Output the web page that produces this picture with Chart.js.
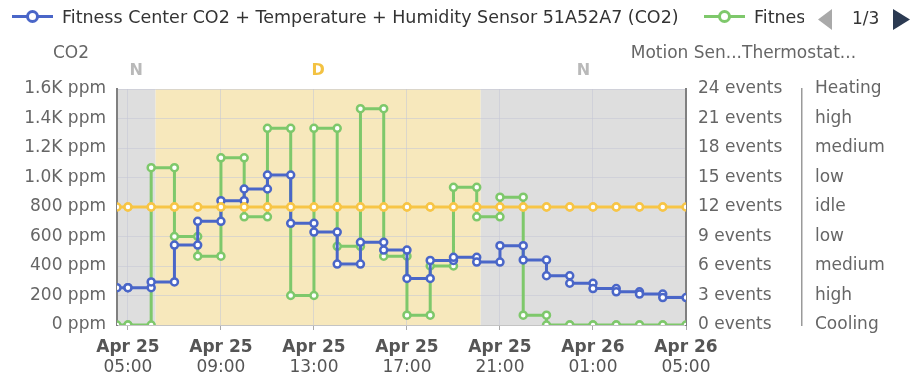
<!DOCTYPE html>
<html><head><meta charset="utf-8">
<script src="https://cdn.jsdelivr.net/npm/chart.js@4/dist/chart.umd.min.js"></script>
<style>
html,body{margin:0;padding:0;background:#fff;}
#wrap{position:relative;width:914px;height:379px;overflow:hidden;font-family:"DejaVu Sans",sans-serif;}
#c{position:absolute;left:0;top:0;}
.item{position:absolute;top:0;height:34px;display:flex;align-items:center;}
.mk{position:relative;width:41px;height:34px;flex:none;}
.mk .ln{position:absolute;left:0;right:0;top:15px;height:3px;}
.mk .ci{position:absolute;left:14px;top:10px;width:7px;height:7px;border:3px solid;border-radius:50%;background:#fff;}
.txt{font-size:17.5px;color:#333;white-space:nowrap;margin-left:9px;overflow:hidden;}
#pg{position:absolute;left:818px;top:0;height:34px;width:96px;}
#pg .num{position:absolute;left:34px;top:8px;font-size:17px;color:#333;}
</style>
</head>
<body>
<div id="wrap">
<canvas id="c" width="914" height="379"></canvas>
<div id="legend"></div>
<div id="pg">
  <svg style="position:absolute;left:0;top:9px" width="14" height="21"><polygon points="14,0 14,21 0,10.5" fill="#a9a9a9"/></svg>
  <span class="num">1/3</span>
  <svg style="position:absolute;left:75px;top:9px" width="17" height="21"><polygon points="0,0 0,21 17,10.5" fill="#2b3a52"/></svg>
</div>
</div>
<script>
// ---- data ----
const seriesLabels = [
  'Fitness Center CO2 + Temperature + Humidity Sensor 51A52A7 (CO2)',
  'Fitness Center Motion Sensor (Motion)',
  'Fitness Center Thermostat (State)'
];
// segment start, hours since Apr 25 00:00 (value holds until next start)
const hourStarts = [4.53,5,6,7,8,9,10,11,12,13,14,15,16,17,18,19,20,21,22,23,24,25,26,27,28];
const endHour = 29;
const co2Ppm = [253,253,292,542,703,843,922,1017,689,630,413,561,508,316,438,459,427,538,441,334,283,247,225,210,186];
const motionEvents = [0,0,16,9,7,17,11,20,3,20,8,22,7,1,6,14,11,13,1,0,0,0,0,0,0];
const thermostatState = [0,0,0,0,0,0,0,0,0,0,0,0,0,0,0,0,0,0,0,0,0,0,0,0,0];
const stateNames = {'4':'Heating','3':'high','2':'medium','1':'low','0':'idle','-1':'low','-2':'medium','-3':'high','-4':'Cooling'};
const xTickHours = [5,9,13,17,21,25,29];
const xTickDates = ['Apr 25','Apr 25','Apr 25','Apr 25','Apr 25','Apr 26','Apr 26'];
const xTickTimes = ['05:00','09:00','13:00','17:00','21:00','01:00','05:00'];
const bandStarts = [4.53, 6.19, 20.17];
const bandEnds = [6.19, 20.17, 29];
const bandKinds = ['N','D','N'];
const xMin = 4.53, xMax = 29;

// ---- styles ----
const BLUE = '#4a66c8', GREEN = '#7ec86b', ORANGE = '#f7c546';
const FONT = '"DejaVu Sans", sans-serif';
const GRID = 'rgba(196,198,214,0.55)';

// legend (HTML)
const legendItems = [
  {left:12, color:BLUE, label:seriesLabels[0], width:null},
  {left:704, color:GREEN, label:seriesLabels[1], width:50}
];
const lg = document.getElementById('legend');
legendItems.forEach(it=>{
  const d = document.createElement('div'); d.className='item'; d.style.left = it.left+'px';
  d.innerHTML = '<div class="mk"><div class="ln" style="background:'+it.color+'"></div><div class="ci" style="border-color:'+it.color+'"></div></div>';
  const t = document.createElement('span'); t.className='txt'; t.textContent = it.label;
  if (it.width) t.style.width = it.width+'px';
  d.appendChild(t); lg.appendChild(d);
});

function stepPoints(values){
  const pts = [];
  values.forEach((v,i)=>{
    const end = i+1 < hourStarts.length ? hourStarts[i+1] : endHour;
    pts.push({x:hourStarts[i], y:v});
    pts.push({x:end, y:v});
  });
  return pts;
}

const bandsPlugin = {
  id:'bands',
  beforeDraw(chart){
    const {ctx, chartArea:a} = chart; const x = chart.scales.x;
    ctx.save();
    bandKinds.forEach((k,i)=>{
      const x0 = x.getPixelForValue(bandStarts[i]), x1 = x.getPixelForValue(bandEnds[i]);
      ctx.fillStyle = k==='D' ? '#f7e8bc' : '#dedede';
      ctx.fillRect(x0, a.top, x1-x0, a.bottom-a.top);
      ctx.fillStyle = k==='D' ? '#f3c242' : '#b9b9b9';
      ctx.font = 'bold 16px '+FONT; ctx.textAlign='center'; ctx.textBaseline='middle';
      ctx.fillText(k, (x0+x1)/2, a.top-18);
    });
    ctx.restore();
  },
  afterDraw(chart){
    const {ctx} = chart; const ye = chart.scales.yEvents;
    ctx.save();
    ctx.fillStyle = '#666'; ctx.font = '17px '+FONT; ctx.textBaseline='middle';
    ctx.textAlign='center'; ctx.fillText('CO2', 71, 54);
    ctx.textAlign='right'; ctx.fillText('Motion Sen...', ye.left+56, 54);
    ctx.textAlign='left'; ctx.fillText('Thermostat...', ye.left+56, 54);
    ctx.restore();
  }
};

Chart.defaults.font.family = FONT;
Chart.defaults.font.size = 17;

const setTicks = s => { s.ticks = xTickHours.map(v=>({value:v})); };

new Chart(document.getElementById('c').getContext('2d'), {
  type:'line',
  data:{datasets:[
    {label:seriesLabels[0], data:stepPoints(co2Ppm), yAxisID:'y', xAxisID:'x', borderColor:BLUE, pointBorderColor:BLUE, order:1},
    {label:seriesLabels[1], data:stepPoints(motionEvents), yAxisID:'yEvents', xAxisID:'x', borderColor:GREEN, pointBorderColor:GREEN, order:2},
    {label:seriesLabels[2], data:stepPoints(thermostatState), yAxisID:'yState', xAxisID:'x', borderColor:ORANGE, pointBorderColor:ORANGE, order:0}
  ]},
  options:{
    responsive:false, animation:false,
    layout:{padding:{top:89,left:0,right:0,bottom:0}},
    plugins:{legend:{display:false}, tooltip:{enabled:false}},
    elements:{
      line:{tension:0, borderWidth:3, fill:false},
      point:{radius:3.5, borderWidth:2.5, backgroundColor:'#fff', hoverRadius:3.5}
    },
    scales:{
      x:{type:'linear', position:'bottom', min:xMin, max:xMax, afterBuildTicks:setTicks,
        ticks:{autoSkip:false, maxRotation:0, padding:7, color:'#555', font:{size:17, weight:'bold'},
          callback:v=>xTickDates[xTickHours.indexOf(v)]},
        grid:{color:GRID, tickLength:5, tickColor:'#aaa', drawTicks:true},
        border:{color:'#c4c4c4', width:1},
        afterFit:s=>{s.height=32;}},
      x2:{type:'linear', position:'bottom', min:xMin, max:xMax, afterBuildTicks:setTicks,
        ticks:{autoSkip:false, maxRotation:0, padding:0, color:'#555', font:{size:17},
          callback:v=>xTickTimes[xTickHours.indexOf(v)]},
        grid:{display:false, drawTicks:false}, border:{display:false},
        afterFit:s=>{s.height=22;}},
      y:{position:'left', min:0, max:1600,
        ticks:{stepSize:200, padding:11, color:'#666',
          callback:v=> v>=1000 ? (v/1000).toFixed(1)+'K ppm' : v+' ppm'},
        grid:{color:GRID, drawTicks:false}, border:{color:'#808080', width:2},
        afterFit:s=>{s.width=117;}},
      yEvents:{position:'right', min:0, max:24,
        ticks:{stepSize:3, padding:12, color:'#666', callback:v=>v+' events'},
        grid:{drawOnChartArea:false, drawTicks:false}, border:{color:'#808080', width:2},
        afterFit:s=>{s.width=116;}},
      yState:{position:'right', min:-4, max:4,
        ticks:{stepSize:1, padding:13, color:'#666', callback:v=>stateNames[String(v)]},
        grid:{drawOnChartArea:false, drawTicks:false}, border:{color:'#9a9a9a', width:1.5},
        afterFit:s=>{s.width=112;}}
    }
  },
  plugins:[bandsPlugin]
});
</script>
</body></html>
